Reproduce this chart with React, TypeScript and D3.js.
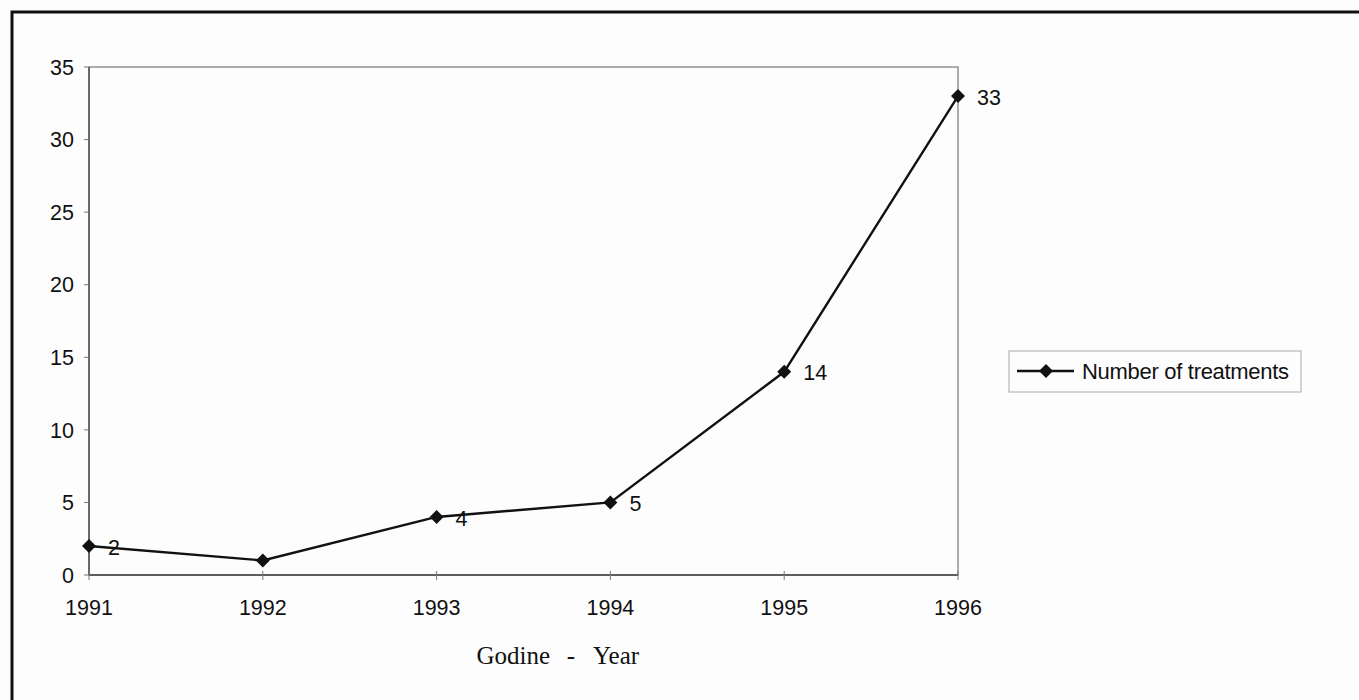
import React from "react";
import * as d3 from "d3";

const years = [1991, 1992, 1993, 1994, 1995, 1996];
const treatments = [2, 1, 4, 5, 14, 33];
const labelled = [true, false, true, true, true, true];
const yTicks = [0, 5, 10, 15, 20, 25, 30, 35];
const seriesName = "Number of treatments";
const xTitleParts = ["Godine", "-", "Year"];

const W = 1359;
const H = 700;
const plot = { left: 89, right: 958, top: 67, bottom: 575 };

export default function App() {
  const x = d3.scaleLinear().domain([1991, 1996]).range([plot.left, plot.right]);
  const y = d3.scaleLinear().domain([0, 35]).range([plot.bottom, plot.top]);
  const line = d3
    .line<number>()
    .x((_, i) => x(years[i]))
    .y((d) => y(d));
  const diamond = (cx: number, cy: number, r = 7) =>
    `M${cx},${cy - r}L${cx + r},${cy}L${cx},${cy + r}L${cx - r},${cy}Z`;
  const sans = "'Liberation Sans', Arial, sans-serif";
  const serif = "'Liberation Serif', 'Times New Roman', serif";
  const axisColor = "#777";
  const fs = 21.5;

  return (
    <svg
      width={W}
      height={H}
      style={{ position: "absolute", left: 0, top: 0, background: "#fdfdfd" }}
    >
      <rect x={0} y={0} width={W} height={H} fill="#fdfdfd" />
      {/* outer frame */}
      <rect x={12} y={12} width={W + 20} height={H + 20} fill="none" stroke="#111" strokeWidth={3} />
      {/* plot border */}
      <rect
        x={plot.left}
        y={plot.top}
        width={plot.right - plot.left}
        height={plot.bottom - plot.top}
        fill="none"
        stroke={axisColor}
        strokeWidth={1.2}
      />
      <line x1={plot.left} x2={plot.left} y1={plot.top} y2={plot.bottom} stroke="#444" strokeWidth={1.3} />
      <line x1={plot.left} x2={plot.right} y1={plot.bottom} y2={plot.bottom} stroke="#444" strokeWidth={1.3} />
      {/* y ticks */}
      {yTicks.map((t) => (
        <g key={t}>
          <line x1={plot.left - 5} x2={plot.left} y1={y(t)} y2={y(t)} stroke={axisColor} />
          <text
            x={74}
            y={y(t)}
            dy="0.36em"
            textAnchor="end"
            fontFamily={sans}
            fontSize={fs}
            fill="#111"
          >
            {t}
          </text>
        </g>
      ))}
      {/* x ticks */}
      {years.map((yr) => (
        <g key={yr}>
          <line x1={x(yr)} x2={x(yr)} y1={plot.bottom - 4} y2={plot.bottom + 5} stroke={axisColor} />
          <text x={x(yr)} y={615} textAnchor="middle" fontFamily={sans} fontSize={fs} fill="#111">
            {yr}
          </text>
        </g>
      ))}
      {/* x title */}
      <text x={550} y={664} textAnchor="end" fontFamily={serif} fontSize={25} fill="#111">
        {xTitleParts[0]}
      </text>
      <text x={571} y={664} textAnchor="middle" fontFamily={serif} fontSize={25} fill="#111">
        {xTitleParts[1]}
      </text>
      <text x={593} y={664} textAnchor="start" fontFamily={serif} fontSize={25} fill="#111">
        {xTitleParts[2]}
      </text>
      {/* series */}
      <path d={line(treatments) || ""} fill="none" stroke="#111" strokeWidth={2.4} />
      {treatments.map((v, i) => (
        <path key={i} d={diamond(x(years[i]), y(v))} fill="#111" />
      ))}
      {treatments.map((v, i) =>
        labelled[i] ? (
          <text
            key={i}
            x={x(years[i]) + 19}
            y={y(v)}
            dy="0.4em"
            fontFamily={sans}
            fontSize={fs}
            fill="#111"
          >
            {v}
          </text>
        ) : null
      )}
      {/* legend */}
      <rect x={1009} y={351} width={292} height={41} fill="none" stroke="#aaa" strokeWidth={1} />
      <line x1={1017} x2={1074} y1={371} y2={371} stroke="#111" strokeWidth={2.4} />
      <path d={diamond(1046, 371)} fill="#111" />
      <text x={1082} y={371} dy="0.36em" fontFamily={sans} fontSize={22} fill="#111" letterSpacing={-0.3}>
        {seriesName}
      </text>
    </svg>
  );
}
